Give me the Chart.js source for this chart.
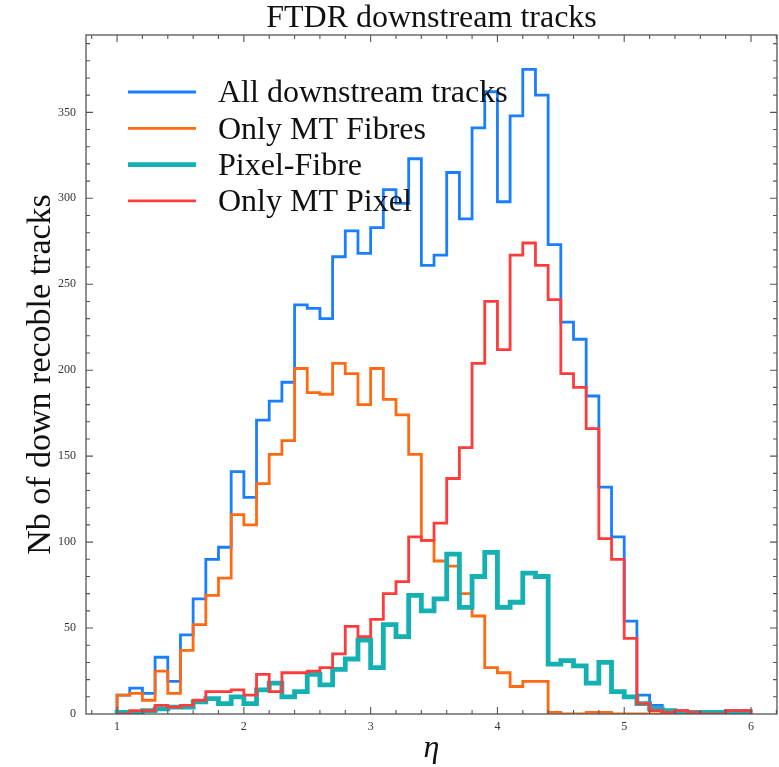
<!DOCTYPE html>
<html>
<head>
<meta charset="utf-8">
<script src="https://cdn.jsdelivr.net/npm/chart.js@4.4.1/dist/chart.umd.min.js"></script>
<style>
  body { margin: 0; background: #fff; }
  canvas { display: block; }
</style>
</head>
<body>
<canvas id="chart" width="779" height="767"></canvas>
<script>
// eta bins of width 0.1 from 1.0 to 6.0
const binEdges = Array.from({ length: 51 }, (_, i) => Math.round((1 + i * 0.1) * 10) / 10);

// counts per bin
const allTracks = [
  11, 15, 12, 33, 19, 46, 67, 90, 97, 141,
  126, 171, 182, 193, 238, 236, 230, 266, 281, 268,
  283, 305, 297, 323, 261, 267, 315, 288, 341, 362,
  298, 348, 375, 360, 273, 228, 218, 185, 132, 103,
  54, 11, 5, 2, 2, 1, 1, 1, 2, 2,
];
const onlyFibres = [
  11, 12, 8, 25, 12, 37, 52, 69, 79, 116,
  110, 134, 151, 159, 201, 187, 186, 204, 198, 180,
  201, 183, 174, 151, 101, 89, 86, 70, 57, 27,
  24, 16, 19, 19, 1, 0, 0, 1, 1, 0,
  0, 0, 0, 0, 0, 0, 0, 0, 0, 0,
];
const pixelFibre = [
  1, 1, 2, 3, 4, 4, 7, 9, 6, 10,
  6, 14, 18, 10, 13, 23, 17, 26, 32, 43,
  27, 52, 45, 69, 60, 67, 93, 62, 80, 94,
  62, 65, 82, 80, 29, 31, 28, 18, 30, 13,
  10, 6, 3, 2, 1, 1, 1, 1, 0, 0,
];
const onlyPixel = [
  0, 2, 2, 5, 4, 5, 8, 13, 13, 14,
  11, 23, 13, 24, 24, 25, 27, 35, 51, 45,
  55, 70, 77, 103, 101, 111, 137, 155, 204, 240,
  212, 267, 274, 261, 241, 198, 190, 166, 102, 90,
  44, 6, 2, 1, 2, 1, 0, 0, 2, 2,
];

const xTicks = [1, 2, 3, 4, 5, 6];
const yTicks = [0, 50, 100, 150, 200, 250, 300, 350];

const serif = "'Liberation Serif', 'DejaVu Serif', serif";
const tickFont = { family: serif, size: 12 };

// histogram outline: up from zero at the first edge, down to zero at the last
function stepPoints(vals) {
  const pts = [{ x: binEdges[0], y: 0 }];
  vals.forEach((v, i) => pts.push({ x: binEdges[i], y: v }));
  pts.push({ x: binEdges[vals.length], y: vals[vals.length - 1] });
  pts.push({ x: binEdges[vals.length], y: 0 });
  return pts;
}

const series = [
  { label: "All downstream tracks", data: allTracks, color: "#1a7fff", width: 2.8, order: 3 },
  { label: "Only MT Fibres", data: onlyFibres, color: "#ff6a12", width: 2.8, order: 2 },
  { label: "Pixel-Fibre", data: pixelFibre, color: "#14b0b2", width: 4.8, order: 1 },
  { label: "Only MT Pixel", data: onlyPixel, color: "#ff3c3c", width: 2.8, order: 0 },
];

// frame with inward ticks, titles and legend inside the plot
const decorations = {
  id: "decorations",
  afterDraw(chart) {
    const { ctx, chartArea: a, scales } = chart;
    const xs = scales.x, ys = scales.y;
    ctx.save();
    ctx.strokeStyle = "#555";
    ctx.lineWidth = 1.3;
    ctx.strokeRect(a.left, a.top, a.right - a.left, a.bottom - a.top);

    ctx.lineWidth = 1.1;
    ctx.beginPath();
    for (let v = 0.8; v < xs.max; v += 0.2) {
      const px = xs.getPixelForValue(v);
      const major = Math.abs(v - Math.round(v)) < 1e-6;
      const len = major ? 7 : 4;
      ctx.moveTo(px, a.bottom); ctx.lineTo(px, a.bottom - len);
      ctx.moveTo(px, a.top); ctx.lineTo(px, a.top + len);
    }
    for (let v = 10; v < ys.max; v += 10) {
      const py = ys.getPixelForValue(v);
      const len = v % 50 === 0 ? 7 : 4;
      ctx.moveTo(a.left, py); ctx.lineTo(a.left + len, py);
      ctx.moveTo(a.right, py); ctx.lineTo(a.right - len, py);
    }
    ctx.stroke();

    ctx.fillStyle = "#111";
    ctx.textAlign = "center";
    ctx.textBaseline = "alphabetic";
    ctx.font = "32px " + serif;
    ctx.fillText("FTDR downstream tracks", (a.left + a.right) / 2, 27);

    ctx.font = "italic 32px " + serif;
    ctx.fillText("\u03B7", (a.left + a.right) / 2, 757);

    ctx.save();
    ctx.translate(50, (a.top + a.bottom) / 2);
    ctx.rotate(-Math.PI / 2);
    ctx.font = "34px " + serif;
    ctx.fillText("Nb of down recoble tracks", 0, 0);
    ctx.restore();

    // legend
    ctx.textAlign = "left";
    ctx.textBaseline = "middle";
    ctx.font = "32px " + serif;
    series.forEach((s, i) => {
      const y = 92 + i * 36.3;
      ctx.strokeStyle = s.color;
      ctx.lineWidth = s.width;
      ctx.beginPath();
      ctx.moveTo(128, y);
      ctx.lineTo(196, y);
      ctx.stroke();
      ctx.fillStyle = "#111";
      ctx.fillText(s.label, 218, y + 2);
    });
    ctx.restore();
  },
};

new Chart(document.getElementById("chart").getContext("2d"), {
  type: "line",
  data: {
    datasets: series.map((s) => ({
      label: s.label,
      data: stepPoints(s.data),
      borderColor: s.color,
      borderWidth: s.width,
      stepped: true,
      pointRadius: 0,
      fill: false,
      order: s.order,
    })),
  },
  options: {
    responsive: false,
    animation: false,
    layout: { padding: { top: 35, right: 2, left: 0, bottom: 0 } },
    scales: {
      x: {
        type: "linear",
        min: 0.755,
        max: 6.205,
        grid: { display: false, drawTicks: false },
        border: { display: false },
        ticks: { font: tickFont, color: "#333", padding: 6, maxRotation: 0 },
        afterBuildTicks: (s) => { s.ticks = xTicks.map((v) => ({ value: v })); },
        afterFit: (s) => { s.height = 53; },
      },
      y: {
        min: 0,
        max: 395,
        grid: { display: false, drawTicks: false },
        border: { display: false },
        ticks: { font: tickFont, color: "#333", padding: 10 },
        afterBuildTicks: (s) => { s.ticks = yTicks.map((v) => ({ value: v })); },
        afterFit: (s) => { s.width = 86; },
      },
    },
    plugins: {
      legend: { display: false },
      tooltip: { enabled: false },
    },
  },
  plugins: [decorations],
});
</script>
</body>
</html>
